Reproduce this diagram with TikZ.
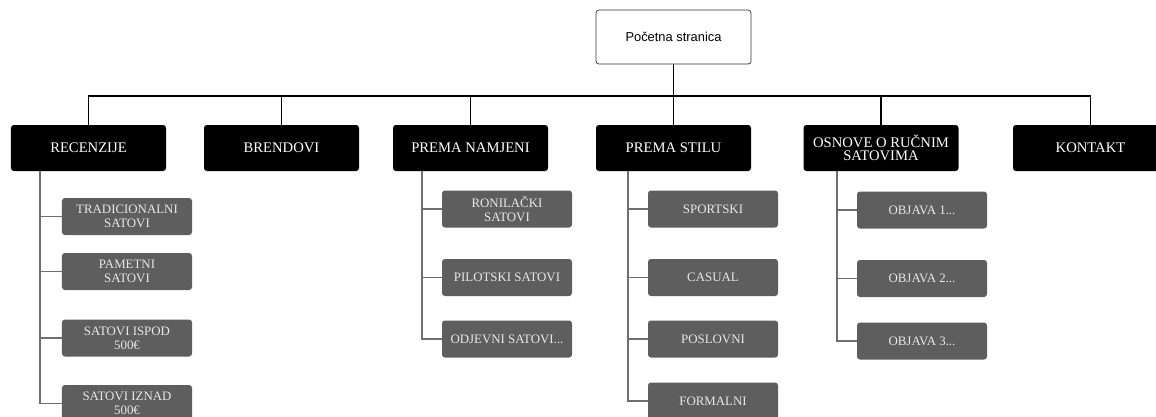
\documentclass[tikz,border=0pt]{standalone}
\usepackage{fontspec}
\setmainfont{Liberation Serif}
\newfontfamily\homefont{Liberation Sans}
\usetikzlibrary{positioning}
\definecolor{boxgray}{HTML}{5E5E5E}
\definecolor{linegray}{HTML}{6E6E6E}
\definecolor{pale}{HTML}{E8E8E8}

\begin{document}
\begin{tikzpicture}[x=0.03cm, y=-0.03cm]
\tikzstyle{homebox}=[draw=black!80, rounded corners=2.5pt, fill=white, minimum width=4.65cm,
  minimum height=1.62cm, align=center, font=\homefont\fontsize{11}{13}\selectfont, line width=0.6pt]
\tikzstyle{mainbox}=[fill=black, rounded corners=2.5pt, minimum width=4.65cm, minimum height=1.38cm,
  align=center, text=white, font=\fontsize{12.5}{11.5}\selectfont, inner sep=1pt]
\tikzstyle{subbox}=[fill=boxgray, rounded corners=2.5pt, minimum width=3.9cm, minimum height=1.11cm,
  align=center, text=pale, font=\fontsize{11}{11.6}\selectfont, inner sep=1pt]
\tikzstyle{bus}=[line width=1.3pt]
\tikzstyle{trunk}=[linegray, line width=1.5pt]
\useasboundingbox (0,0) rectangle (1156,416);
\clip (0,0) rectangle (1156,416);
% home and main sections
\node[homebox] (home) at (673.5,37) {Početna stranica};
\node[mainbox] (rec) at (88.5,148) {RECENZIJE};
\node[mainbox] (brend) at (281.5,148) {BRENDOVI};
\node[mainbox] (namj) at (470.5,148) {PREMA NAMJENI};
\node[mainbox] (stil) at (673.5,148) {PREMA STILU};
\node[mainbox] (osn) at (881,148) {OSNOVE O RUČNIM\\SATOVIMA};
\node[mainbox] (kont) at (1090.5,148) {KONTAKT};
% sub pages
\node[subbox] (rec1) at (127,216.5) {TRADICIONALNI\\SATOVI};
\node[subbox] (rec2) at (127,271.5) {PAMETNI\\SATOVI};
\node[subbox] (rec3) at (127,338) {SATOVI ISPOD\\500€};
\node[subbox] (rec4) at (127,403.5) {SATOVI IZNAD\\500€};
\node[subbox] (namj1) at (507,209) {RONILAČKI\\SATOVI};
\node[subbox] (namj2) at (507,277.5) {PILOTSKI SATOVI};
\node[subbox] (namj3) at (507,339) {ODJEVNI SATOVI...};
\node[subbox] (stil1) at (713,209) {SPORTSKI};
\node[subbox] (stil2) at (713,277.5) {CASUAL};
\node[subbox] (stil3) at (713,339) {POSLOVNI};
\node[subbox] (stil4) at (713,401) {FORMALNI};
\node[subbox] (osn1) at (922,210) {OBJAVA 1...};
\node[subbox] (osn2) at (922,278.5) {OBJAVA 2...};
\node[subbox] (osn3) at (922,341) {OBJAVA 3...};
% bus line
\coordinate (busline) at (0,96);
\draw[bus] (home.south) -- (home.south |- busline);
\draw[bus] (rec.north) |- (kont.north |- busline) -- (kont.north);
\foreach \m in {brend,namj,stil,osn}
  \draw[bus] (\m.north) -- (\m.north |- busline);
% trunks
\coordinate (rect) at ([xshift=0.87cm]rec.south west);
\coordinate (namjt) at ([xshift=0.87cm]namj.south west);
\coordinate (stilt) at ([xshift=0.96cm]stil.south west);
\coordinate (osnt) at ([xshift=1.02cm]osn.south west);
\draw[trunk] (rect) |- (rec4.west);
\draw[trunk] (namjt) |- (namj3.west);
\draw[trunk] (stilt) |- (stil4.west);
\draw[trunk] (osnt) |- (osn3.west);
\foreach \c in {rec1,rec2,rec3} \draw[trunk] (rect |- \c.west) -- (\c.west);
\foreach \c in {namj1,namj2} \draw[trunk] (namjt |- \c.west) -- (\c.west);
\foreach \c in {stil1,stil2,stil3} \draw[trunk] (stilt |- \c.west) -- (\c.west);
\foreach \c in {osn1,osn2} \draw[trunk] (osnt |- \c.west) -- (\c.west);
\end{tikzpicture}
\end{document}
